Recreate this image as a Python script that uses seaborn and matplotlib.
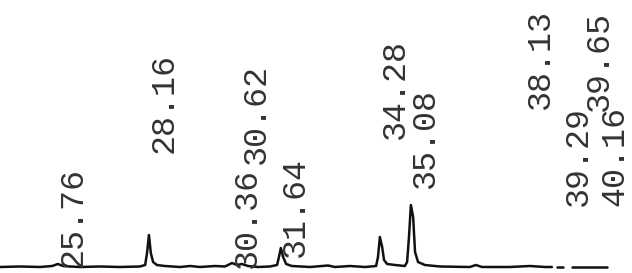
import matplotlib
matplotlib.use("Agg")
import matplotlib.pyplot as plt
import seaborn as sns
import pandas as pd

# trace: retention time (min) and detector signal
trace_time = [24.22, 24.75, 25.28, 25.60, 25.75, 25.89, 26.07, 26.34, 26.87, 27.39,
              27.92, 28.06, 28.11, 28.16, 28.21, 28.27, 28.37, 28.58, 28.98, 29.25,
              29.51, 29.91, 30.17, 30.36, 30.49, 30.62, 30.78, 31.05, 31.36, 31.55,
              31.60, 31.65, 31.71, 31.79, 31.94, 32.42, 32.90, 33.08, 33.48, 33.88,
              34.17, 34.22, 34.27, 34.33, 34.38, 34.46, 34.67, 34.93, 34.99, 35.04,
              35.09, 35.15, 35.20, 35.28, 35.46, 35.86, 36.65, 36.81, 36.97, 37.71,
              38.24, 38.64, 38.82,
              38.95, 39.11,
              39.35, 40.28]
trace_signal = [0, 0.5, 0, 1, 3, 1, 0.5, 0, 0.5, 0,
                0.5, 2, 14, 32, 14, 5, 2, 1, 0, 1,
                0, 1, 0.5, 4, 2, 3, 1, 0, 0.5, 2,
                10, 19, 10, 3, 1, 0, 1.5, 0, 1, 0,
                1, 10, 30, 20, 7, 3, 2, 1, 5, 30,
                62, 50, 15, 5, 2, 0.5, 0, 2, 0, 0,
                1, 0, 0,
                0, 0,
                0, 0]
trace_segment = [0] * 63 + [1] * 2 + [2] * 2

# peak labels
peak_labels = ["25.76", "28.16", "30.36", "30.62", "31.64", "34.28",
               "35.08", "38.13", "39.29", "39.65", "40.16"]
peak_times = [25.76, 28.16, 30.36, 30.62, 31.64, 34.28,
              35.08, 38.13, 39.29, 39.65, 40.16]

# layout: label foot above the baseline, and sideways nudge (points)
label_foot = [0, 114, -1, 103, 10, 128, 79, 158, 61, 156, 61]
label_dx = [10.8, 10.8, 10.8, 10.8, 10.8, 10.8, 10.8, 10.8, 6.0, 12.0, 9.0]

df = pd.DataFrame({"time": trace_time, "signal": trace_signal, "seg": trace_segment})

sns.set_style("white")
fig = plt.figure(figsize=(6.32, 2.73), dpi=100)
ax = fig.add_axes([0, 0, 1, 1])

sns.lineplot(data=df, x="time", y="signal", units="seg", estimator=None,
             color="#111111", linewidth=1.8, ax=ax)

for lab, t, foot, dx in zip(peak_labels, peak_times, label_foot, label_dx):
    ax.annotate(lab, xy=(t, foot), xytext=(dx, 0), textcoords="offset points",
                rotation=90, ha="center", va="bottom",
                family="Liberation Mono", fontsize=24, color="#333333")

ax.set_xlim(24.22, 40.94)
ax.set_ylim(-6, 267)
ax.axis("off")

fig.savefig("out.png", dpi=100, facecolor="white")
